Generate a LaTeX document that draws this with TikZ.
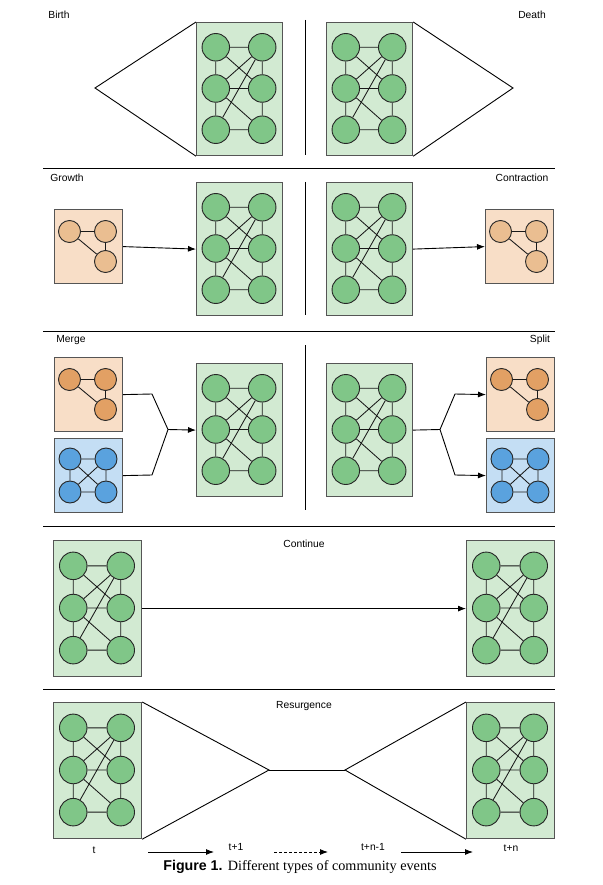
\documentclass[tikz,border=0pt]{standalone}
\usepackage{fontspec}
\setmainfont{Liberation Sans}
\newfontfamily\serifcap{Liberation Serif}
\usetikzlibrary{arrows.meta,calc}

\definecolor{gfill}{HTML}{D2EAD2}
\definecolor{gcircle}{HTML}{80C688}
\definecolor{ofill}{HTML}{F8DEC7}
\definecolor{olight}{HTML}{EABE91}
\definecolor{odark}{HTML}{E2A064}
\definecolor{bfill}{HTML}{C4DEF4}
\definecolor{bcircle}{HTML}{5AA2DE}
\definecolor{boxline}{HTML}{555555}

\tikzset{
  commbox/.style={draw=boxline, line width=1.2pt, inner sep=0pt, anchor=north west},
  vert/.style={circle, draw=black!85, line width=0.9pt, inner sep=0pt},
  gvert/.style={vert, fill=gcircle, minimum size=27.5pt},
  svert/.style={vert, minimum size=22pt},
  gedge/.style={line width=0.85pt, draw=black!90},
  arr/.style={-{Latex[length=8pt,width=6pt]}, line width=0.9pt},
  plain/.style={line width=0.9pt},
  sepline/.style={line width=0.9pt},
  lbl/.style={font=\fontsize{10.3}{12}\selectfont, inner sep=1pt},
}

\newcommand{\gcomm}[5]{%
  \node[commbox, fill=gfill, minimum width=#4pt, minimum height=#5pt] (#1) at (#2,#3) {};
  \node[gvert] (#1a) at ({#2+0.23*#4},{#3+0.19*#5}) {};
  \node[gvert] (#1b) at ({#2+0.77*#4},{#3+0.19*#5}) {};
  \node[gvert] (#1c) at ({#2+0.23*#4},{#3+0.5*#5}) {};
  \node[gvert] (#1d) at ({#2+0.77*#4},{#3+0.5*#5}) {};
  \node[gvert] (#1e) at ({#2+0.23*#4},{#3+0.81*#5}) {};
  \node[gvert] (#1f) at ({#2+0.77*#4},{#3+0.81*#5}) {};
  \draw[gedge] (#1a)--(#1b) (#1a)--(#1c) (#1b)--(#1d) (#1c)--(#1d)
    (#1c)--(#1e) (#1d)--(#1f) (#1e)--(#1f) (#1a)--(#1d) (#1c)--(#1b)
    (#1e)--(#1b) (#1c)--(#1f);
}

\newcommand{\tricomm}[4]{%
  \node[commbox, fill=ofill, minimum width=68pt, minimum height=74pt] (#1) at (#2,#3) {};
  \node[svert, fill=#4] (#1a) at ({#2+15.5},{#3+22.5}) {};
  \node[svert, fill=#4] (#1b) at ({#2+51.5},{#3+22.5}) {};
  \node[svert, fill=#4] (#1c) at ({#2+51.5},{#3+52.5}) {};
  \draw[gedge] (#1a)--(#1b) (#1a)--(#1c) (#1b)--(#1c);
}

\newcommand{\quadcomm}[3]{%
  \node[commbox, fill=bfill, minimum width=68pt, minimum height=74pt] (#1) at (#2,#3) {};
  \node[svert, fill=bcircle] (#1a) at ({#2+16},{#3+21}) {};
  \node[svert, fill=bcircle] (#1b) at ({#2+52},{#3+21}) {};
  \node[svert, fill=bcircle] (#1c) at ({#2+16},{#3+54}) {};
  \node[svert, fill=bcircle] (#1d) at ({#2+52},{#3+54}) {};
  \draw[gedge] (#1a)--(#1b) (#1a)--(#1c) (#1b)--(#1d) (#1c)--(#1d)
    (#1a)--(#1d) (#1b)--(#1c);
}

\begin{document}
\begin{tikzpicture}[x=1pt,y=-1pt]
\useasboundingbox[fill=white] (0,0) rectangle (602,885);

% ---------- Birth / Death ----------
\node[lbl] (lbirth) at (59,15) {Birth};
\node[lbl] (ldeath) at (532,15) {Death};
\gcomm{gB}{196}{22}{86}{133}
\gcomm{gD}{326}{22}{86}{133}
\coordinate (apB) at (95,88);
\coordinate (apD) at (513,88);
\draw[plain] (gB.north west) -- (apB) -- (gB.south west);
\draw[plain] (gD.north east) -- (apD) -- (gD.south east);
\draw[sepline] (305,20) -- (305,155);
\draw[sepline] (43,168) -- (555,168);

% ---------- Growth / Contraction ----------
\node[lbl] (lgrowth) at (67,178) {Growth};
\node[lbl] (lcontr) at (522,178) {Contraction};
\tricomm{oG}{54}{209}{olight}
\gcomm{gG}{196}{182}{86}{133}
\gcomm{gC}{326}{182}{86}{133}
\tricomm{oC}{485}{209}{olight}
\draw[arr] (oG.east) -- (gG.west);
\draw[arr] (gC.east) -- (oC.west);
\draw[sepline] (305,182) -- (305,315);
\draw[sepline] (43,331) -- (555,331);

% ---------- Merge / Split ----------
\node[lbl] (lmerge) at (71,340) {Merge};
\node[lbl] (lsplit) at (540,340) {Split};
\tricomm{oM}{54}{357}{odark}
\quadcomm{bM}{54}{438}
\gcomm{gM}{196}{363}{86}{133}
\gcomm{gS}{326}{363}{86}{133}
\tricomm{oS}{486}{357}{odark}
\quadcomm{bS}{486}{438}
\coordinate (m1) at (152,394);
\coordinate (m2) at (152,475);
\coordinate (mj) at (168,429.5);
\draw[plain] (oM.east) -- (m1) -- (mj);
\draw[plain] (bM.east) -- (m2) -- (mj);
\draw[arr] (mj) -- (gM.west);
\coordinate (sj) at (440,429.5);
\coordinate (s1) at (455,394);
\coordinate (s2) at (455,475);
\draw[plain] (gS.east) -- (sj);
\draw[arr] (sj) -- (s1) -- (oS.west);
\draw[arr] (sj) -- (s2) -- (bS.west);
\draw[sepline] (305,345) -- (305,510);
\draw[sepline] (43,526) -- (555,526);

% ---------- Continue ----------
\node[lbl] (lcont) at (304,544) {Continue};
\gcomm{gL}{53}{540}{88}{136}
\gcomm{gR}{466}{540}{88}{136}
\draw[arr] (gL.east) -- (gR.west);
\draw[sepline] (43,689) -- (555,689);

% ---------- Resurgence ----------
\node[lbl] (lres) at (304,706) {Resurgence};
\gcomm{rL}{53}{702}{88}{136}
\gcomm{rR}{466}{702}{88}{136}
\coordinate (rj1) at (269,770);
\coordinate (rj2) at (345,770);
\draw[plain] (rL.north east) -- (rj1) -- (rL.south east);
\draw[plain] (rj1) -- (rj2);
\draw[plain] (rR.north west) -- (rj2) -- (rR.south west);

% ---------- time axis ----------
\node[lbl] (tt) at (94,850) {t};
\node[lbl] (tt1) at (236,847) {t+1};
\node[lbl] (ttn1) at (373,847) {t+n-1};
\node[lbl] (ttn) at (511,848) {t+n};
\coordinate (a1s) at (148,852);
\coordinate (a1e) at (214,852);
\coordinate (a2s) at (274,852);
\coordinate (a2e) at (328,852);
\coordinate (a3s) at (401,852);
\coordinate (a3e) at (473,852);
\draw[arr] (a1s) -- (a1e);
\draw[arr, dashed, dash pattern=on 3pt off 2pt] (a2s) -- (a2e);
\draw[arr] (a3s) -- (a3e);

% ---------- caption ----------
\node[inner sep=0pt] (cap) at (300,867) {\fontsize{14.2}{16}\selectfont\textbf{Figure 1.} {\serifcap Different types of community events}};
\end{tikzpicture}
\end{document}
